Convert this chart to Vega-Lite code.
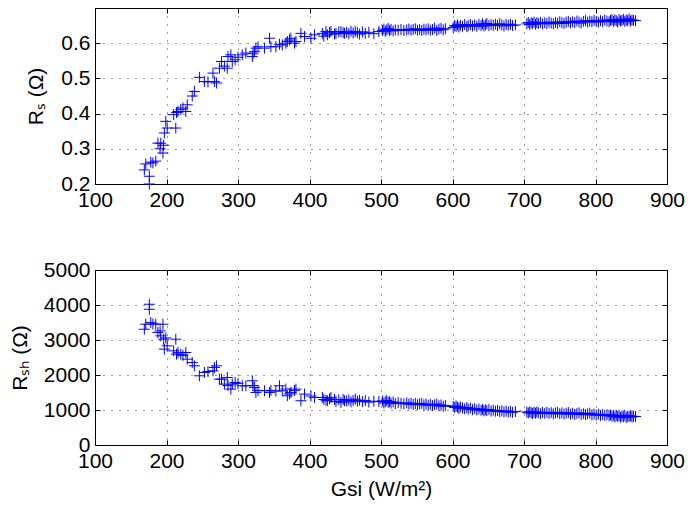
{
  "$schema": "https://vega.github.io/schema/vega-lite/v6.json",
  "padding": {"left": 8, "top": 7, "right": 1, "bottom": 5},
  "background": "white",
  "config": {
    "font": "Liberation Sans",
    "view": {"stroke": "black", "strokeWidth": 1},
    "axis": {
      "labelFont": "Liberation Sans",
      "titleFont": "Liberation Sans",
      "labelFontSize": 21,
      "titleFontSize": 21,
      "titleFontWeight": "normal",
      "labelColor": "black",
      "titleColor": "black",
      "domainColor": "black",
      "tickColor": "black",
      "tickSize": -5,
      "labelPadding": 10,
      "gridColor": "#222222",
      "gridDash": [1, 7],
      "gridOpacity": 0.9,
      "gridWidth": 1,
      "labelFlush": false,
      "labelOverlap": false
    }
  },
  "data": {"values": [
    {"g":176,"rs":0.200,"rsh":4021},{"g":176,"rs":0.222,"rsh":3878},{"g":169,"rs":0.240,"rsh":3308},{"g":171,"rs":0.257,"rsh":3451},
    {"g":178,"rs":0.262,"rsh":3498},{"g":181,"rs":0.260,"rsh":3460},{"g":185,"rs":0.265,"rsh":3451},{"g":188,"rs":0.316,"rsh":3213},
    {"g":191,"rs":0.300,"rsh":3260},{"g":192,"rs":0.316,"rsh":3118},{"g":195,"rs":0.288,"rsh":3451},{"g":196,"rs":0.310,"rsh":3023},
    {"g":197,"rs":0.345,"rsh":2738},{"g":201,"rs":0.359,"rsh":2833},{"g":199,"rs":0.378,"rsh":3060},{"g":213,"rs":0.359,"rsh":3023},
    {"g":210,"rs":0.397,"rsh":2690},{"g":214,"rs":0.403,"rsh":2595},{"g":216,"rs":0.406,"rsh":2640},{"g":220,"rs":0.412,"rsh":2595},
    {"g":223,"rs":0.416,"rsh":2560},{"g":227,"rs":0.406,"rsh":2643},{"g":229,"rs":0.425,"rsh":2452},{"g":236,"rs":0.450,"rsh":2357},
    {"g":239,"rs":0.463,"rsh":2262},{"g":246,"rs":0.503,"rsh":1977},{"g":253,"rs":0.491,"rsh":2072},{"g":258,"rs":0.490,"rsh":2100},
    {"g":265,"rs":0.515,"rsh":2120},{"g":267,"rs":0.491,"rsh":2215},{"g":270,"rs":0.487,"rsh":2262},{"g":274,"rs":0.529,"rsh":1882},
    {"g":277,"rs":0.548,"rsh":1880},{"g":281,"rs":0.535,"rsh":1740},{"g":285,"rs":0.529,"rsh":1930},{"g":286,"rs":0.562,"rsh":1700},
    {"g":290,"rs":0.567,"rsh":1597},{"g":292,"rs":0.548,"rsh":1740},{"g":296,"rs":0.553,"rsh":1787},{"g":300,"rs":0.560,"rsh":1760},
    {"g":306,"rs":0.567,"rsh":1692},{"g":311,"rs":0.572,"rsh":1690},{"g":320,"rs":0.562,"rsh":1835},{"g":321,"rs":0.570,"rsh":1700},
    {"g":323,"rs":0.576,"rsh":1645},{"g":325,"rs":0.586,"rsh":1502},{"g":328,"rs":0.590,"rsh":1560},{"g":337,"rs":0.586,"rsh":1549},
    {"g":344,"rs":0.614,"rsh":1502},{"g":346,"rs":0.590,"rsh":1560},{"g":353,"rs":0.590,"rsh":1540},{"g":358,"rs":0.597,"rsh":1692},
    {"g":362,"rs":0.595,"rsh":1549},{"g":367,"rs":0.600,"rsh":1600},{"g":369,"rs":0.605,"rsh":1407},{"g":372,"rs":0.609,"rsh":1460},
    {"g":374,"rs":0.614,"rsh":1502},{"g":379,"rs":0.600,"rsh":1560},{"g":381,"rs":0.605,"rsh":1597},{"g":388,"rs":0.628,"rsh":1264},
    {"g":393,"rs":0.619,"rsh":1454},{"g":402,"rs":0.614,"rsh":1400},{"g":407,"rs":0.624,"rsh":1359},{"g":418,"rs":0.628,"rsh":1359},
    {"g":420,"rs":0.620,"rsh":1300},{"g":423,"rs":0.633,"rsh":1280},{"g":425,"rs":0.624,"rsh":1264},{"g":428,"rs":0.630,"rsh":1320},
    {"g":430,"rs":0.633,"rsh":1359},{"g":435,"rs":0.626,"rsh":1300},{"g":437,"rs":0.628,"rsh":1240},{"g":441,"rs":0.632,"rsh":1290},
    {"g":444,"rs":0.633,"rsh":1217},{"g":447,"rs":0.630,"rsh":1300},{"g":449,"rs":0.628,"rsh":1264},
    {"g":452,"rs":0.631,"rsh":1260},{"g":455,"rs":0.627,"rsh":1290},{"g":458,"rs":0.634,"rsh":1230},{"g":461,"rs":0.629,"rsh":1275},
    {"g":464,"rs":0.633,"rsh":1310},{"g":467,"rs":0.630,"rsh":1250},{"g":470,"rs":0.626,"rsh":1280},{"g":474,"rs":0.632,"rsh":1240},
    {"g":478,"rs":0.628,"rsh":1270},{"g":483,"rs":0.631,"rsh":1225},{"g":490,"rs":0.627,"rsh":1250},{"g":497,"rs":0.633,"rsh":1240},
    {"g":502,"rs":0.636,"rsh":1260},{"g":504,"rs":0.640,"rsh":1200},{"g":506,"rs":0.634,"rsh":1235},{"g":508,"rs":0.638,"rsh":1270},
    {"g":510,"rs":0.642,"rsh":1215},{"g":512,"rs":0.636,"rsh":1240},{"g":514,"rs":0.639,"rsh":1195},{"g":517,"rs":0.635,"rsh":1230},
    {"g":520,"rs":0.638,"rsh":1185},{"g":524,"rs":0.637,"rsh":1210},{"g":528,"rs":0.639,"rsh":1190},{"g":532,"rs":0.636,"rsh":1175},
    {"g":536,"rs":0.638,"rsh":1205},{"g":539,"rs":0.640,"rsh":1170},{"g":542,"rs":0.637,"rsh":1195},{"g":545,"rs":0.639,"rsh":1160},
    {"g":548,"rs":0.641,"rsh":1185},{"g":551,"rs":0.637,"rsh":1150},{"g":554,"rs":0.639,"rsh":1175},{"g":557,"rs":0.636,"rsh":1190},
    {"g":560,"rs":0.640,"rsh":1145},{"g":563,"rs":0.638,"rsh":1170},{"g":566,"rs":0.641,"rsh":1135},{"g":569,"rs":0.637,"rsh":1160},
    {"g":572,"rs":0.639,"rsh":1125},{"g":575,"rs":0.643,"rsh":1150},{"g":578,"rs":0.636,"rsh":1170},{"g":581,"rs":0.640,"rsh":1120},
    {"g":584,"rs":0.642,"rsh":1145},{"g":587,"rs":0.638,"rsh":1105},{"g":590,"rs":0.641,"rsh":1130},
    {"g":601,"rs":0.645,"rsh":1100},{"g":603,"rs":0.650,"rsh":1070},{"g":605,"rs":0.647,"rsh":1115},{"g":607,"rs":0.652,"rsh":1080},
    {"g":609,"rs":0.646,"rsh":1050},{"g":611,"rs":0.651,"rsh":1090},{"g":614,"rs":0.648,"rsh":1060},{"g":617,"rs":0.653,"rsh":1035},
    {"g":620,"rs":0.647,"rsh":1070},{"g":622,"rs":0.650,"rsh":1025},{"g":625,"rs":0.653,"rsh":1055},{"g":628,"rs":0.649,"rsh":1010},
    {"g":631,"rs":0.652,"rsh":1040},{"g":634,"rs":0.648,"rsh":1000},{"g":637,"rs":0.654,"rsh":1030},{"g":640,"rs":0.650,"rsh":990},
    {"g":642,"rs":0.655,"rsh":1020},{"g":644,"rs":0.649,"rsh":975},{"g":646,"rs":0.652,"rsh":1005},{"g":648,"rs":0.656,"rsh":985},
    {"g":651,"rs":0.650,"rsh":1015},{"g":654,"rs":0.653,"rsh":970},{"g":657,"rs":0.651,"rsh":995},{"g":660,"rs":0.654,"rsh":965},
    {"g":663,"rs":0.650,"rsh":985},{"g":666,"rs":0.655,"rsh":955},{"g":669,"rs":0.652,"rsh":975},{"g":672,"rs":0.649,"rsh":945},
    {"g":675,"rs":0.653,"rsh":970},{"g":678,"rs":0.651,"rsh":940},{"g":681,"rs":0.654,"rsh":960},{"g":684,"rs":0.650,"rsh":935},
    {"g":688,"rs":0.652,"rsh":955},
    {"g":704,"rs":0.655,"rsh":940},{"g":706,"rs":0.659,"rsh":915},{"g":708,"rs":0.653,"rsh":950},{"g":710,"rs":0.658,"rsh":925},
    {"g":712,"rs":0.656,"rsh":900},{"g":714,"rs":0.660,"rsh":935},{"g":716,"rs":0.654,"rsh":910},{"g":718,"rs":0.658,"rsh":945},
    {"g":720,"rs":0.656,"rsh":920},{"g":723,"rs":0.659,"rsh":895},{"g":726,"rs":0.655,"rsh":930},{"g":729,"rs":0.658,"rsh":905},
    {"g":732,"rs":0.656,"rsh":935},{"g":735,"rs":0.660,"rsh":900},{"g":738,"rs":0.657,"rsh":925},{"g":741,"rs":0.655,"rsh":890},
    {"g":744,"rs":0.659,"rsh":915},{"g":747,"rs":0.657,"rsh":935},{"g":750,"rs":0.661,"rsh":895},{"g":753,"rs":0.658,"rsh":920},
    {"g":756,"rs":0.656,"rsh":885},{"g":759,"rs":0.660,"rsh":910},{"g":762,"rs":0.662,"rsh":930},{"g":765,"rs":0.658,"rsh":880},
    {"g":768,"rs":0.661,"rsh":905},{"g":771,"rs":0.659,"rsh":875},{"g":774,"rs":0.663,"rsh":900},{"g":777,"rs":0.660,"rsh":920},
    {"g":780,"rs":0.657,"rsh":870},{"g":783,"rs":0.662,"rsh":895},{"g":786,"rs":0.664,"rsh":865},{"g":789,"rs":0.660,"rsh":890},
    {"g":792,"rs":0.663,"rsh":910},{"g":795,"rs":0.661,"rsh":860},{"g":798,"rs":0.665,"rsh":885},{"g":801,"rs":0.662,"rsh":855},
    {"g":804,"rs":0.660,"rsh":880},{"g":807,"rs":0.664,"rsh":845},{"g":810,"rs":0.662,"rsh":870},{"g":813,"rs":0.666,"rsh":840},
    {"g":816,"rs":0.663,"rsh":865},{"g":819,"rs":0.661,"rsh":835},{"g":821,"rs":0.665,"rsh":860},{"g":823,"rs":0.667,"rsh":820},
    {"g":825,"rs":0.662,"rsh":850},{"g":827,"rs":0.666,"rsh":800},{"g":829,"rs":0.664,"rsh":845},{"g":831,"rs":0.660,"rsh":815},
    {"g":833,"rs":0.667,"rsh":840},{"g":835,"rs":0.663,"rsh":790},{"g":837,"rs":0.665,"rsh":830},{"g":839,"rs":0.668,"rsh":805},
    {"g":841,"rs":0.662,"rsh":845},{"g":843,"rs":0.666,"rsh":785},{"g":845,"rs":0.664,"rsh":825},{"g":847,"rs":0.669,"rsh":810},
    {"g":849,"rs":0.663,"rsh":835},{"g":851,"rs":0.666,"rsh":800},{"g":853,"rs":0.665,"rsh":820},{"g":856,"rs":0.664,"rsh":815}
  ]},
  "spacing": 86,
  "bounds": "flush",
  "vconcat": [
    {
      "width": 572,
      "height": 176,
      "layer": [
        {
          "mark": {"type": "point", "shape": "M-1,0H1M0,-1V1", "filled": false, "stroke": "#0000ff", "strokeWidth": 1, "size": 120, "opacity": 1},
          "encoding": {
            "x": {"field": "g", "type": "quantitative", "scale": {"domain": [100, 900], "nice": false, "zero": false},
                  "axis": {"values": [100,200,300,400,500,600,700,800,900], "format": "d", "title": null, "grid": true}},
            "y": {"field": "rs", "type": "quantitative", "scale": {"domain": [0.2, 0.7], "nice": false, "zero": false},
                  "axis": {"values": [0.2,0.3,0.4,0.5,0.6], "format": ".1f", "title": "Rₛ (Ω)", "grid": true, "titlePadding": 14}}
          }
        },
        {
          "mark": {"type": "point", "opacity": 0},
          "encoding": {
            "x": {"field": "g", "type": "quantitative", "axis": {"orient": "top", "values": [100,200,300,400,500,600,700,800,900], "labels": false, "title": null, "grid": false, "domain": false}},
            "y": {"field": "rs", "type": "quantitative", "axis": {"orient": "right", "values": [0.2,0.3,0.4,0.5,0.6], "labels": false, "title": null, "grid": false, "domain": false}}
          }
        }
      ],
      "resolve": {"axis": {"x": "independent", "y": "independent"}}
    },
    {
      "width": 572,
      "height": 175,
      "layer": [
        {
          "mark": {"type": "point", "shape": "M-1,0H1M0,-1V1", "filled": false, "stroke": "#0000ff", "strokeWidth": 1, "size": 120, "opacity": 1},
          "encoding": {
            "x": {"field": "g", "type": "quantitative", "scale": {"domain": [100, 900], "nice": false, "zero": false},
                  "axis": {"values": [100,200,300,400,500,600,700,800,900], "format": "d", "title": "Gsi (W/m²)", "grid": true, "titlePadding": 7}},
            "y": {"field": "rsh", "type": "quantitative", "scale": {"domain": [0, 5000], "nice": false},
                  "axis": {"values": [0,1000,2000,3000,4000,5000], "format": "d", "title": "Rₛₕ (Ω)", "grid": true, "titlePadding": 13}}
          }
        },
        {
          "mark": {"type": "point", "opacity": 0},
          "encoding": {
            "x": {"field": "g", "type": "quantitative", "axis": {"orient": "top", "values": [100,200,300,400,500,600,700,800,900], "labels": false, "title": null, "grid": false, "domain": false}},
            "y": {"field": "rsh", "type": "quantitative", "axis": {"orient": "right", "values": [0,1000,2000,3000,4000,5000], "labels": false, "title": null, "grid": false, "domain": false}}
          }
        }
      ],
      "resolve": {"axis": {"x": "independent", "y": "independent"}}
    }
  ]
}
